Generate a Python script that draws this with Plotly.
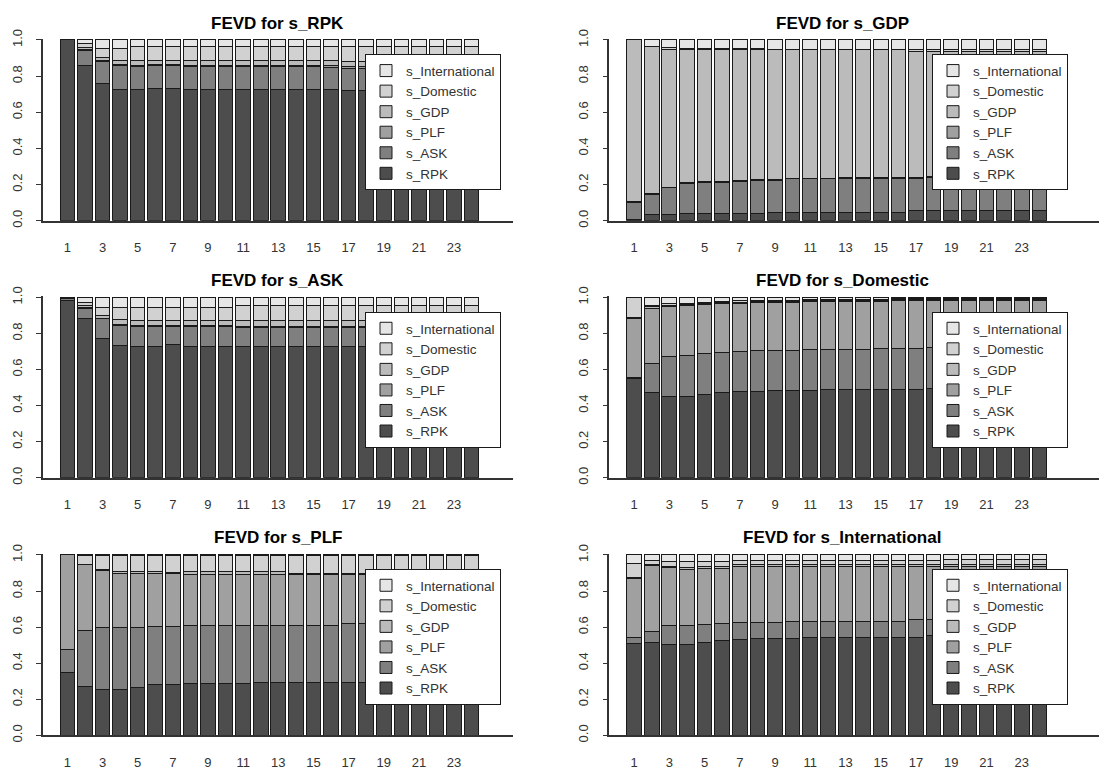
import plotly.graph_objects as go

horizons = [str(h) for h in range(1, 25)]
tick_labels = ["1", "3", "5", "7", "9", "11", "13", "15", "17", "19", "21", "23"]
shocks = ["s_RPK", "s_ASK", "s_PLF", "s_GDP", "s_Domestic", "s_International"]
colors = ["#4D4D4D", "#7F7F7F", "#A0A0A0", "#BBBBBB", "#D1D1D1", "#E6E6E6"]
y_ticks = [0.0, 0.2, 0.4, 0.6, 0.8, 1.0]
y_tick_text = ["0.0", "0.2", "0.4", "0.6", "0.8", "1.0"]

# ---- FEVD for s_RPK ----
rpk_RPK = [1.000, 0.857, 0.757, 0.727, 0.727, 0.733, 0.733, 0.727, 0.727, 0.727, 0.727, 0.727,
           0.727, 0.727, 0.727, 0.727, 0.720, 0.720, 0.720, 0.720, 0.720, 0.720, 0.720, 0.720]
rpk_ASK = [0.000, 0.085, 0.123, 0.131, 0.128, 0.124, 0.124, 0.126, 0.126, 0.126, 0.126, 0.126,
           0.126, 0.126, 0.124, 0.122, 0.125, 0.125, 0.125, 0.125, 0.125, 0.125, 0.125, 0.125]
rpk_PLF = [0.000, 0.006, 0.007, 0.004, 0.005, 0.005, 0.005, 0.006, 0.004, 0.004, 0.004, 0.004,
           0.004, 0.004, 0.006, 0.008, 0.007, 0.007, 0.007, 0.007, 0.007, 0.007, 0.007, 0.007]
rpk_GDP = [0.000, 0.012, 0.018, 0.022, 0.024, 0.023, 0.023, 0.025, 0.027, 0.027, 0.027, 0.027,
           0.027, 0.027, 0.027, 0.027, 0.030, 0.030, 0.030, 0.030, 0.030, 0.030, 0.030, 0.030]
rpk_DOM = [0.000, 0.018, 0.047, 0.070, 0.078, 0.077, 0.077, 0.078, 0.078, 0.078, 0.078, 0.078,
           0.078, 0.078, 0.078, 0.078, 0.080, 0.080, 0.080, 0.080, 0.080, 0.080, 0.080, 0.080]
rpk_INT = [0.000, 0.022, 0.048, 0.046, 0.038, 0.038, 0.038, 0.038, 0.038, 0.038, 0.038, 0.038,
           0.038, 0.038, 0.038, 0.038, 0.038, 0.038, 0.038, 0.038, 0.038, 0.038, 0.038, 0.038]

# ---- FEVD for s_GDP ----
gdp_RPK = [0.004, 0.032, 0.032, 0.041, 0.041, 0.041, 0.041, 0.041, 0.046, 0.046, 0.046, 0.046,
           0.046, 0.046, 0.046, 0.046, 0.054, 0.054, 0.054, 0.054, 0.054, 0.054, 0.054, 0.054]
gdp_ASK = [0.099, 0.112, 0.149, 0.166, 0.169, 0.169, 0.177, 0.184, 0.179, 0.185, 0.185, 0.185,
           0.189, 0.189, 0.189, 0.189, 0.182, 0.186, 0.186, 0.186, 0.186, 0.186, 0.186, 0.186]
gdp_PLF = [0.005, 0.008, 0.005, 0.005, 0.005, 0.005, 0.005, 0.005, 0.005, 0.005, 0.005, 0.005,
           0.005, 0.005, 0.005, 0.005, 0.005, 0.005, 0.005, 0.005, 0.005, 0.005, 0.005, 0.005]
gdp_GDP = [0.892, 0.810, 0.764, 0.734, 0.731, 0.731, 0.723, 0.716, 0.715, 0.709, 0.709, 0.709,
           0.705, 0.705, 0.705, 0.705, 0.697, 0.692, 0.692, 0.692, 0.692, 0.692, 0.692, 0.692]
gdp_DOM = [0.000, 0.004, 0.010, 0.008, 0.008, 0.008, 0.008, 0.006, 0.004, 0.003, 0.003, 0.003,
           0.003, 0.003, 0.003, 0.003, 0.007, 0.008, 0.008, 0.008, 0.008, 0.008, 0.008, 0.008]
gdp_INT = [0.000, 0.034, 0.040, 0.046, 0.046, 0.046, 0.046, 0.048, 0.051, 0.052, 0.052, 0.052,
           0.052, 0.052, 0.052, 0.052, 0.055, 0.055, 0.055, 0.055, 0.055, 0.055, 0.055, 0.055]

# ---- FEVD for s_ASK ----
ask_RPK = [0.985, 0.884, 0.771, 0.734, 0.728, 0.728, 0.740, 0.728, 0.728, 0.728, 0.728, 0.728,
           0.728, 0.728, 0.728, 0.728, 0.728, 0.728, 0.728, 0.728, 0.728, 0.728, 0.728, 0.728]
ask_ASK = [0.010, 0.055, 0.110, 0.108, 0.110, 0.110, 0.098, 0.110, 0.110, 0.110, 0.104, 0.104,
           0.104, 0.104, 0.104, 0.104, 0.104, 0.104, 0.104, 0.104, 0.104, 0.104, 0.104, 0.104]
ask_PLF = [0.002, 0.007, 0.004, 0.008, 0.006, 0.006, 0.006, 0.006, 0.006, 0.006, 0.008, 0.008,
           0.008, 0.008, 0.008, 0.008, 0.008, 0.008, 0.008, 0.008, 0.008, 0.008, 0.008, 0.008]
ask_GDP = [0.001, 0.008, 0.015, 0.028, 0.028, 0.028, 0.028, 0.028, 0.028, 0.028, 0.030, 0.030,
           0.030, 0.030, 0.030, 0.030, 0.030, 0.030, 0.030, 0.030, 0.030, 0.030, 0.030, 0.030]
ask_DOM = [0.001, 0.016, 0.046, 0.068, 0.074, 0.074, 0.074, 0.074, 0.074, 0.074, 0.086, 0.086,
           0.086, 0.086, 0.086, 0.086, 0.086, 0.086, 0.086, 0.086, 0.086, 0.086, 0.086, 0.086]
ask_INT = [0.001, 0.030, 0.054, 0.054, 0.054, 0.054, 0.054, 0.054, 0.054, 0.054, 0.044, 0.044,
           0.044, 0.044, 0.044, 0.044, 0.044, 0.044, 0.044, 0.044, 0.044, 0.044, 0.044, 0.044]

# ---- FEVD for s_Domestic ----
dom_RPK = [0.551, 0.470, 0.451, 0.450, 0.462, 0.475, 0.476, 0.476, 0.482, 0.482, 0.482, 0.488,
           0.488, 0.488, 0.488, 0.488, 0.488, 0.495, 0.495, 0.495, 0.495, 0.495, 0.495, 0.495]
dom_ASK = [0.003, 0.162, 0.219, 0.230, 0.224, 0.217, 0.222, 0.228, 0.223, 0.223, 0.230, 0.224,
           0.224, 0.224, 0.230, 0.230, 0.230, 0.225, 0.225, 0.225, 0.225, 0.225, 0.225, 0.225]
dom_PLF = [0.331, 0.308, 0.277, 0.272, 0.273, 0.274, 0.270, 0.268, 0.267, 0.267, 0.266, 0.266,
           0.266, 0.266, 0.260, 0.266, 0.266, 0.264, 0.264, 0.264, 0.264, 0.264, 0.264, 0.264]
dom_GDP = [0.001, 0.007, 0.006, 0.006, 0.006, 0.005, 0.005, 0.005, 0.005, 0.005, 0.005, 0.005,
           0.005, 0.005, 0.005, 0.004, 0.004, 0.004, 0.004, 0.005, 0.005, 0.005, 0.005, 0.005]
dom_DOM = [0.114, 0.008, 0.010, 0.010, 0.008, 0.007, 0.007, 0.007, 0.007, 0.007, 0.006, 0.006,
           0.006, 0.006, 0.006, 0.005, 0.005, 0.005, 0.005, 0.005, 0.005, 0.005, 0.005, 0.005]
dom_INT = [0.000, 0.045, 0.037, 0.032, 0.027, 0.022, 0.020, 0.016, 0.016, 0.016, 0.011, 0.011,
           0.011, 0.011, 0.011, 0.007, 0.007, 0.007, 0.007, 0.006, 0.006, 0.006, 0.006, 0.006]

# ---- FEVD for s_PLF ----
plf_RPK = [0.348, 0.272, 0.255, 0.255, 0.266, 0.279, 0.279, 0.285, 0.285, 0.285, 0.285, 0.292,
           0.292, 0.292, 0.292, 0.292, 0.292, 0.292, 0.292, 0.292, 0.292, 0.292, 0.292, 0.292]
plf_ASK = [0.126, 0.311, 0.343, 0.343, 0.332, 0.325, 0.325, 0.325, 0.325, 0.325, 0.325, 0.318,
           0.318, 0.318, 0.318, 0.318, 0.326, 0.326, 0.326, 0.326, 0.326, 0.326, 0.326, 0.326]
plf_PLF = [0.526, 0.365, 0.315, 0.300, 0.300, 0.293, 0.293, 0.283, 0.283, 0.283, 0.283, 0.283,
           0.283, 0.283, 0.283, 0.283, 0.275, 0.275, 0.275, 0.275, 0.275, 0.275, 0.275, 0.275]
plf_GDP = [0.000, 0.002, 0.007, 0.012, 0.012, 0.013, 0.008, 0.013, 0.013, 0.013, 0.013, 0.013,
           0.013, 0.007, 0.007, 0.007, 0.007, 0.007, 0.007, 0.007, 0.007, 0.007, 0.007, 0.007]
plf_DOM = [0.000, 0.048, 0.078, 0.087, 0.087, 0.087, 0.092, 0.091, 0.091, 0.091, 0.091, 0.091,
           0.091, 0.097, 0.097, 0.097, 0.097, 0.097, 0.097, 0.097, 0.097, 0.097, 0.097, 0.097]
plf_INT = [0.000, 0.002, 0.002, 0.003, 0.003, 0.003, 0.003, 0.003, 0.003, 0.003, 0.003, 0.003,
           0.003, 0.003, 0.003, 0.003, 0.003, 0.003, 0.003, 0.003, 0.003, 0.003, 0.003, 0.003]

# ---- FEVD for s_International ----
int_RPK = [0.511, 0.517, 0.502, 0.502, 0.517, 0.523, 0.530, 0.537, 0.537, 0.537, 0.545, 0.545,
           0.545, 0.545, 0.545, 0.545, 0.545, 0.552, 0.552, 0.552, 0.552, 0.552, 0.552, 0.552]
int_ASK = [0.033, 0.061, 0.105, 0.105, 0.096, 0.097, 0.096, 0.089, 0.089, 0.095, 0.087, 0.087,
           0.087, 0.087, 0.087, 0.087, 0.095, 0.088, 0.088, 0.088, 0.088, 0.088, 0.088, 0.088]
int_PLF = [0.327, 0.363, 0.321, 0.315, 0.313, 0.306, 0.309, 0.309, 0.309, 0.303, 0.303, 0.303,
           0.303, 0.303, 0.303, 0.303, 0.295, 0.295, 0.297, 0.297, 0.297, 0.297, 0.297, 0.297]
int_GDP = [0.005, 0.004, 0.010, 0.010, 0.010, 0.010, 0.010, 0.010, 0.010, 0.010, 0.010, 0.010,
           0.012, 0.012, 0.012, 0.012, 0.012, 0.012, 0.013, 0.013, 0.013, 0.013, 0.013, 0.013]
int_DOM = [0.078, 0.025, 0.025, 0.030, 0.028, 0.028, 0.022, 0.022, 0.022, 0.022, 0.022, 0.022,
           0.025, 0.025, 0.025, 0.025, 0.025, 0.025, 0.025, 0.025, 0.025, 0.025, 0.025, 0.025]
int_INT = [0.046, 0.030, 0.037, 0.038, 0.036, 0.036, 0.033, 0.033, 0.033, 0.033, 0.033, 0.033,
           0.028, 0.028, 0.028, 0.028, 0.028, 0.028, 0.025, 0.025, 0.025, 0.025, 0.025, 0.025]

panels = [
    ("FEVD for s_RPK", [rpk_RPK, rpk_ASK, rpk_PLF, rpk_GDP, rpk_DOM, rpk_INT]),
    ("FEVD for s_GDP", [gdp_RPK, gdp_ASK, gdp_PLF, gdp_GDP, gdp_DOM, gdp_INT]),
    ("FEVD for s_ASK", [ask_RPK, ask_ASK, ask_PLF, ask_GDP, ask_DOM, ask_INT]),
    ("FEVD for s_Domestic", [dom_RPK, dom_ASK, dom_PLF, dom_GDP, dom_DOM, dom_INT]),
    ("FEVD for s_PLF", [plf_RPK, plf_ASK, plf_PLF, plf_GDP, plf_DOM, plf_INT]),
    ("FEVD for s_International", [int_RPK, int_ASK, int_PLF, int_GDP, int_DOM, int_INT]),
]

W, H = 1099, 774
FONT = "Liberation Sans, Arial, sans-serif"
TXT = "#333333"

# pixel layout of each panel: rows -> (y of 1.0, y of 0.0); cols -> (axis x, end x, x-range)
rows_px = [(40.0, 220.7), (297.3, 477.7), (555.0, 735.3)]
cols_px = [(42.7, 513.3, [-1.401, 25.368]), (609.3, 1099.0, [-1.404, 26.385])]
YTOP = 1.006
legend_top = [54.3, 312.0, 569.0]
legend_left = [365.0, 932.0]
title_x = [277.5, 842.0]
title_y = [23.0, 280.5, 537.5]

fig = go.Figure()
layout = dict(
    template="none",
    width=W, height=H, autosize=False,
    margin=dict(l=0, r=0, t=0, b=0, pad=0, autoexpand=False),
    paper_bgcolor="white", plot_bgcolor="white",
    barmode="stack", bargap=1 / 6,
    font=dict(family=FONT, color=TXT, size=13),
    annotations=[],
)

for k, (title, comps) in enumerate(panels):
    r, c = divmod(k, 2)
    sfx = "" if k == 0 else str(k + 1)
    xa, ya = "x" + sfx, "y" + sfx
    leg = "legend" + sfx
    for j, (name, vals) in enumerate(zip(shocks, comps)):
        fig.add_trace(go.Bar(
            x=horizons, y=vals, name=name, xaxis=xa, yaxis=ya, legend=leg,
            marker=dict(color=colors[j], line=dict(color="#1a1a1a", width=1)),
            hovertemplate=name + ": %{y:.3f}<extra></extra>",
        ))
    y1px, y0px = rows_px[r]
    scale = y0px - y1px
    top_px = y0px - YTOP * scale
    ax0, ax1, xr = cols_px[c]
    layout["xaxis" + sfx] = dict(
        domain=[ax0 / W, ax1 / W], range=xr, type="category",
        anchor=ya, showgrid=False, zeroline=False, automargin=False,
        showline=True, linecolor="#333333", linewidth=1.5,
        tickmode="array", tickvals=tick_labels, ticktext=tick_labels,
        ticks="outside", ticklen=14, tickcolor="rgba(0,0,0,0)",
        tickfont=dict(size=13, color=TXT, family=FONT),
        fixedrange=True,
    )
    layout["yaxis" + sfx] = dict(
        domain=[1 - y0px / H, 1 - top_px / H], range=[0, YTOP],
        anchor=xa, showgrid=False, zeroline=False, automargin=False,
        showline=True, linecolor="#333333", linewidth=1.5,
        tickmode="array", tickvals=y_ticks, ticktext=y_tick_text,
        ticks="outside", ticklen=5, tickcolor="#333333", tickwidth=1.2,
        ticklabelstandoff=9,
        tickangle=-90, tickfont=dict(size=13, color=TXT, family=FONT),
        fixedrange=True,
    )
    layout[leg] = dict(
        x=legend_left[c] / W, y=1 - legend_top[r] / H,
        xanchor="left", yanchor="top", xref="paper", yref="paper",
        bgcolor="white", bordercolor="#1a1a1a", borderwidth=1,
        traceorder="reversed", font=dict(size=13.5, color=TXT, family=FONT),
    )
    layout["annotations"].append(dict(
        text="<b>" + title + "</b>", x=title_x[c] / W, y=1 - title_y[r] / H,
        xref="paper", yref="paper", xanchor="center", yanchor="middle",
        showarrow=False, font=dict(size=17, color="#000000", family=FONT),
    ))

fig.update_layout(**layout)
fig.write_html(
    "out.html",
    config={"displayModeBar": False},
    post_script="document.body.style.margin='0';document.body.style.overflow='hidden';",
)
